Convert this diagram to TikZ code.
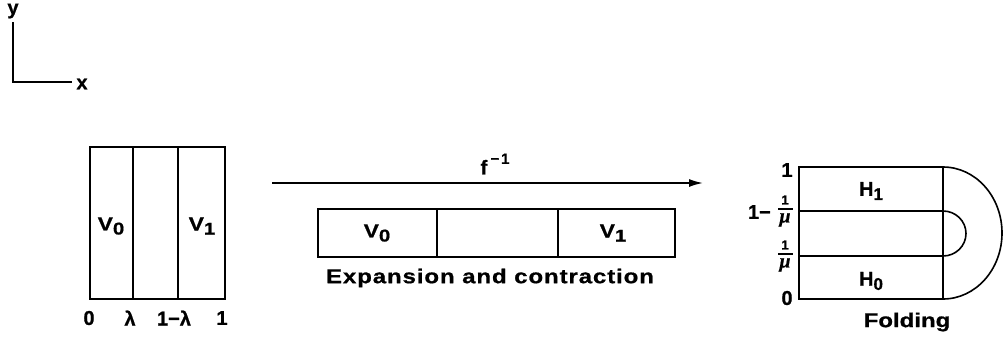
\documentclass[tikz,border=0pt]{standalone}
\usepackage{fontspec}
\setmainfont{Liberation Sans}
\newfontfamily\bsans{Liberation Sans Bold}[FakeBold=0.8]
\newfontfamily\wsans{Liberation Sans Bold}[FakeBold=0.8,FakeStretch=1.2]
\newfontfamily\mufont{Liberation Serif Bold Italic}[FakeBold=0.4]
\usetikzlibrary{arrows.meta}
\newcommand{\sbs}[1]{\raisebox{-0.4ex}{\fontsize{17}{17}\selectfont #1}}
\tikzset{
  ln/.style={line width=1.6pt, line join=miter},
  lbl/.style={font=\bsans\fontsize{20}{20}\selectfont, inner sep=0pt},
  wlbl/.style={font=\wsans\fontsize{19}{19}\selectfont, inner sep=0pt},
  capt/.style={font=\wsans\fontsize{20}{20}\selectfont\addfontfeatures{LetterSpace=4.5}, inner sep=0pt},
  fold/.style={font=\wsans\fontsize{20}{20}\selectfont, inner sep=0pt},
  small1/.style={font=\bsans\fontsize{13}{13}\selectfont, inner sep=0pt},
  mu/.style={font=\mufont\fontsize{20}{20}\selectfont, inner sep=0pt},
  bar/.style={line width=1.2pt},
}
\begin{document}
\begin{tikzpicture}[x=1pt,y=-1pt]
\useasboundingbox (0,0) rectangle (1003,338);
% axes
\coordinate (o) at (13,82);
\coordinate (yt) at (13,22);
\coordinate (xr) at (72,82);
\draw[ln] (yt) -- (o) -- (xr);
\node[lbl] (ylab) at (13,11) {y};
\node[lbl] (xlab) at (82,84) {x};
% left box
\draw[ln] (90,147) rectangle (225,299);
\draw[ln] (133,147) -- (133,299);
\draw[ln] (178,147) -- (178,299);
\node[wlbl] (lv0) at (111,226) {V\sbs{0}};
\node[wlbl] (lv1) at (202,226) {V\sbs{1}};
\node[lbl] (l0) at (89,318) {0};
\node[lbl] (llam) at (130,318) {λ};
\node[lbl] (l1lam) at (174,318) {1−λ};
\node[lbl] (l1) at (222,318) {1};
% arrow
\coordinate (as) at (272,183);
\coordinate (ae) at (703,183);
\draw[ln,-{Latex[length=14pt,width=8pt]}] (as) -- (ae);
\node[lbl] (finv) at (495,164) {f\,\raisebox{1.0ex}{\fontsize{15}{15}\selectfont\addfontfeatures{LetterSpace=12}−1}};
% strip
\draw[ln] (318,209) rectangle (675,257);
\draw[ln] (437,209) -- (437,257);
\draw[ln] (558,209) -- (558,257);
\node[wlbl] (sv0) at (377,233) {V\sbs{0}};
\node[wlbl] (sv1) at (613,233) {V\sbs{1}};
\node[capt] (cap) at (490,278) {Expansion and contraction};
% right
\draw[ln] (799,167) rectangle (943,299);
\draw[ln] (799,211) -- (943,211);
\draw[ln] (799,256) -- (943,256);
\draw[ln] (943,211) arc[start angle=-90,end angle=90,x radius=23,y radius=22.5];
\draw[ln] (943,167) arc[start angle=-90,end angle=90,x radius=59,y radius=66];
\node[lbl] (h1) at (871,191) {H\sbs{1}};
\node[lbl] (h0) at (871,281) {H\sbs{0}};
\node[lbl] (r1) at (787,170) {1};
\node[lbl,anchor=east] (r1m) at (771,212) {1−};
\node[small1] (fn1) at (785,200) {1};
\coordinate (fb1a) at (778,209);
\coordinate (fb1b) at (793,209);
\draw[bar] (fb1a) -- (fb1b);
\node[mu] (fd1) at (785,220) {μ};
\node[small1] (fn2) at (785,245) {1};
\coordinate (fb2a) at (778,254);
\coordinate (fb2b) at (793,254);
\draw[bar] (fb2a) -- (fb2b);
\node[mu] (fd2) at (785,265) {μ};
\node[lbl] (r0) at (787,298) {0};
\node[fold] (foldl) at (907,322) {Folding};
\end{tikzpicture}
\end{document}
